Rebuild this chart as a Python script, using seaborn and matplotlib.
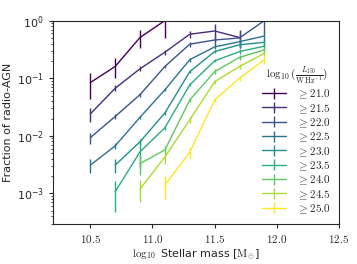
import numpy as np
import matplotlib
matplotlib.use('Agg')
import matplotlib.pyplot as plt
import seaborn as sns

# stellar mass bins (log10 Msun)
mass = [10.5, 10.7, 10.9, 11.1, 11.3, 11.5, 11.7, 11.9]

# luminosity thresholds log10(L150 / W Hz^-1)
lum_cuts = [21.0, 21.5, 22.0, 22.5, 23.0, 23.5, 24.0, 24.5, 25.0]

# index of first mass bin for each threshold
start_bin = [0, 0, 0, 0, 1, 1, 2, 2, 3]

# fraction of radio-AGN per threshold
frac_210 = [0.084, 0.16, 0.51, 1.0]
frac_215 = [0.024, 0.067, 0.146, 0.283, 0.58, 0.66, 0.51]
frac_220 = [0.0093, 0.0217, 0.052, 0.16, 0.39, 0.46, 0.50, 1.0]
frac_225 = [0.0031, 0.0067, 0.021, 0.063, 0.21, 0.35, 0.43, 0.54]
frac_230 = [0.0031, 0.0079, 0.025, 0.13, 0.29, 0.38, 0.42]
frac_235 = [0.00107, 0.0053, 0.0138, 0.077, 0.20, 0.29, 0.36]
frac_240 = [0.0033, 0.0057, 0.042, 0.13, 0.23, 0.31]
frac_245 = [0.0012, 0.0043, 0.019, 0.087, 0.16, 0.27]
frac_250 = [0.0014, 0.0052, 0.042, 0.10, 0.21]

# errors on the fractions
err_210 = [0.04, 0.06, 0.18, 0.5]
err_215 = [0.0065, 0.008, 0.015, 0.03, 0.08, 0.22, 0.17]
err_220 = [0.002, 0.002, 0.004, 0.012, 0.04, 0.1, 0.15, 0.4]
err_225 = [0.0008, 0.0008, 0.0015, 0.004, 0.015, 0.03, 0.05, 0.1]
err_230 = [0.0008, 0.001, 0.002, 0.008, 0.02, 0.04, 0.06]
err_235 = [0.0006, 0.0025, 0.001, 0.005, 0.012, 0.03, 0.05]
err_240 = [0.0012, 0.001, 0.004, 0.012, 0.02, 0.04]
err_245 = [0.0005, 0.001, 0.002, 0.008, 0.015, 0.03]
err_250 = [0.0006, 0.0012, 0.004, 0.01, 0.03]

fracs = [frac_210, frac_215, frac_220, frac_225, frac_230,
         frac_235, frac_240, frac_245, frac_250]
errs = [err_210, err_215, err_220, err_225, err_230,
        err_235, err_240, err_245, err_250]

sns.set_style('ticks')
plt.rcParams['mathtext.fontset'] = 'cm'
plt.rcParams['font.family'] = ['DejaVu Sans']

colors = plt.cm.viridis(np.linspace(0, 1, len(lum_cuts)))

fig = plt.figure(figsize=(3.57, 2.64), dpi=100)
ax = fig.add_axes([0.1485, 0.153, 0.801, 0.769])

for i, cut in enumerate(lum_cuts):
    x = mass[start_bin[i]:start_bin[i] + len(fracs[i])]
    ax.errorbar(x, fracs[i], yerr=errs[i], color=colors[i], lw=1.0,
                elinewidth=1.0, capsize=0, label=r'$\geq %.1f$' % cut)

ax.set_yscale('log')
ax.set_xlim(10.2, 12.5)
ax.set_ylim(3e-4, 1)
ax.set_xticks([10.5, 11.0, 11.5, 12.0, 12.5])
ax.set_xticklabels([r'$10.5$', r'$11.0$', r'$11.5$', r'$12.0$', r'$12.5$'])
ax.tick_params(labelsize=8, length=3, width=0.8)
ax.tick_params(which='minor', length=1.8, width=0.6)
ax.set_xlabel(r'$\log_{10}$ Stellar mass [$\rm M_{\odot}$]', fontsize=8, labelpad=2)
ax.set_ylabel('Fraction of radio-AGN', fontsize=8, labelpad=3)

leg = ax.legend(title=r'$\log_{10}(\frac{L_{150}}{\rm W\,Hz^{-1}})$',
                loc='lower right', frameon=False, fontsize=8, title_fontsize=8,
                handlelength=2.2, handleheight=1.0, handletextpad=1.0,
                labelspacing=0.08, borderaxespad=0.3)

fig.savefig('out.png', dpi=100)
